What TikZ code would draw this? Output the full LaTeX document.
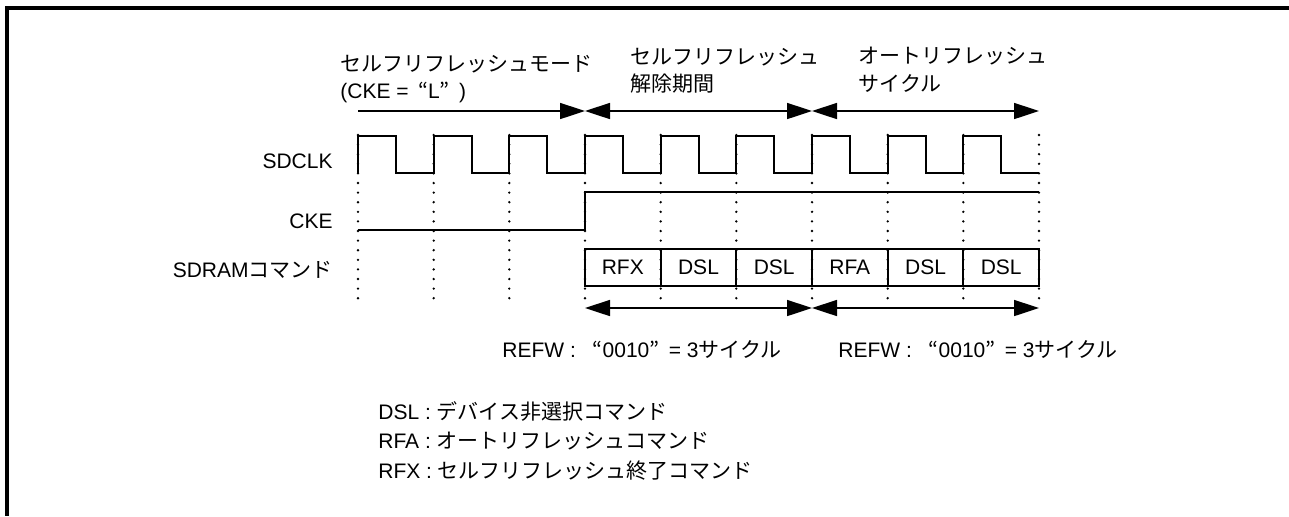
\documentclass[tikz,border=0pt]{standalone}
\usepackage{fontspec}
\setmainfont{Liberation Sans}
\newfontfamily\jp{Noto Sans CJK JP}
\usetikzlibrary{arrows.meta}
% full-width style quotes
\newcommand{\openq}{\hspace{0.45em}{\jp “}}
\newcommand{\closeq}{{\jp ”}\hspace{0.45em}}

\begin{document}
\begin{tikzpicture}[
  x=0.5pt,y=-0.5pt,
  >={Triangle[length=12.5pt,width=8pt]},
  every node/.style={font=\fontsize{10.5}{13}\selectfont,inner sep=0pt},
  frame/.style={line width=1.7pt},
  wave/.style={line width=1pt,line join=miter},
  tick/.style={line width=1.3pt,line cap=round,dash pattern=on 0pt off 4.8pt},
  cmd/.style={draw,line width=1pt,minimum width=37.83pt,minimum height=18.5pt},
  span/.style={<->,line width=0.8pt},
  half/.style={->,line width=0.8pt}
]
\useasboundingbox (0,0) rectangle (1289,516);
% Frame (top and left edges only)
\draw[frame] (1289,8) -- (7,8) -- (7,516);
% Period labels (top)
\node[anchor=base west] (mode1) at (340,71) {\jp セルフリフレッシュモード};
\node[anchor=base west] (mode2) at (340,98) {(CKE =\openq L\closeq)};
\node[anchor=base west] (exit1) at (630,64) {\jp セルフリフレッシュ};
\node[anchor=base west] (exit2) at (630,91) {\jp 解除期間};
\node[anchor=base west] (auto1) at (858,63) {\jp オートリフレッシュ};
\node[anchor=base west] (auto2) at (858,91) {\jp サイクル};
% Period arrows
\coordinate (p0) at (358,111);
\coordinate (p3) at (585,111);
\coordinate (p6) at (812,111);
\coordinate (p9) at (1039,111);
\draw[half] (p0) -- (p3);
\draw[span] (p3) -- (p6);
\draw[span] (p6) -- (p9);
% Signal names
\node[anchor=base east] (sdclk) at (333,168) {SDCLK};
\node[anchor=base east] (cke) at (333,228) {CKE};
\node[anchor=base east] (sdcmd) at (333,277) {SDRAM{\jp コマンド}};
% SDCLK waveform
\draw[wave] (358,173) -- (358,136) -- (395.8,136) -- (395.8,173)
  -- (433.7,173) -- (433.7,136) -- (471.5,136) -- (471.5,173)
  -- (509.3,173) -- (509.3,136) -- (547.2,136) -- (547.2,173)
  -- (585,173) -- (585,136) -- (622.8,136) -- (622.8,173)
  -- (660.7,173) -- (660.7,136) -- (698.5,136) -- (698.5,173)
  -- (736.3,173) -- (736.3,136) -- (774.2,136) -- (774.2,173)
  -- (812,173) -- (812,136) -- (849.8,136) -- (849.8,173)
  -- (887.7,173) -- (887.7,136) -- (925.5,136) -- (925.5,173)
  -- (963.3,173) -- (963.3,136) -- (1001.2,136) -- (1001.2,173)
  -- (1039,173);
% CKE waveform
\draw[wave] (358,230) -- (585,230) -- (585,192) -- (1039,192);
% Clock edge markers
\draw[tick] (358,135) -- (358,299);
\draw[tick] (433.7,135) -- (433.7,299);
\draw[tick] (509.3,135) -- (509.3,299);
\draw[tick] (585,135) -- (585,299);
\draw[tick] (660.7,135) -- (660.7,299);
\draw[tick] (736.3,135) -- (736.3,299);
\draw[tick] (812,135) -- (812,299);
\draw[tick] (887.7,135) -- (887.7,299);
\draw[tick] (963.3,135) -- (963.3,299);
\draw[tick] (1039,135) -- (1039,299);
% SDRAM commands
\node[cmd] (c1) at (622.8,267.5) {RFX};
\node[cmd] (c2) at (698.5,267.5) {DSL};
\node[cmd] (c3) at (774.2,267.5) {DSL};
\node[cmd] (c4) at (849.8,267.5) {RFA};
\node[cmd] (c5) at (925.5,267.5) {DSL};
\node[cmd] (c6) at (1001.2,267.5) {DSL};
% REFW arrows
\coordinate (q3) at (585,308);
\coordinate (q6) at (812,308);
\coordinate (q9) at (1039,308);
\draw[span] (q3) -- (q6);
\draw[span] (q6) -- (q9);
\node[anchor=base west] (refw1) at (502,357) {REFW :\hspace{0.35em}\openq 0010\closeq= 3{\jp サイクル}};
\node[anchor=base west] (refw2) at (838,357) {REFW :\hspace{0.35em}\openq 0010\closeq= 3{\jp サイクル}};
% Legend
\node[anchor=base west] (dsl) at (378,419) {DSL : {\jp デバイス非選択コマンド}};
\node[anchor=base west] (rfa) at (378,448) {RFA : {\jp オートリフレッシュコマンド}};
\node[anchor=base west] (rfx) at (378,478) {RFX : {\jp セルフリフレッシュ終了コマンド}};
\end{tikzpicture}
\end{document}
